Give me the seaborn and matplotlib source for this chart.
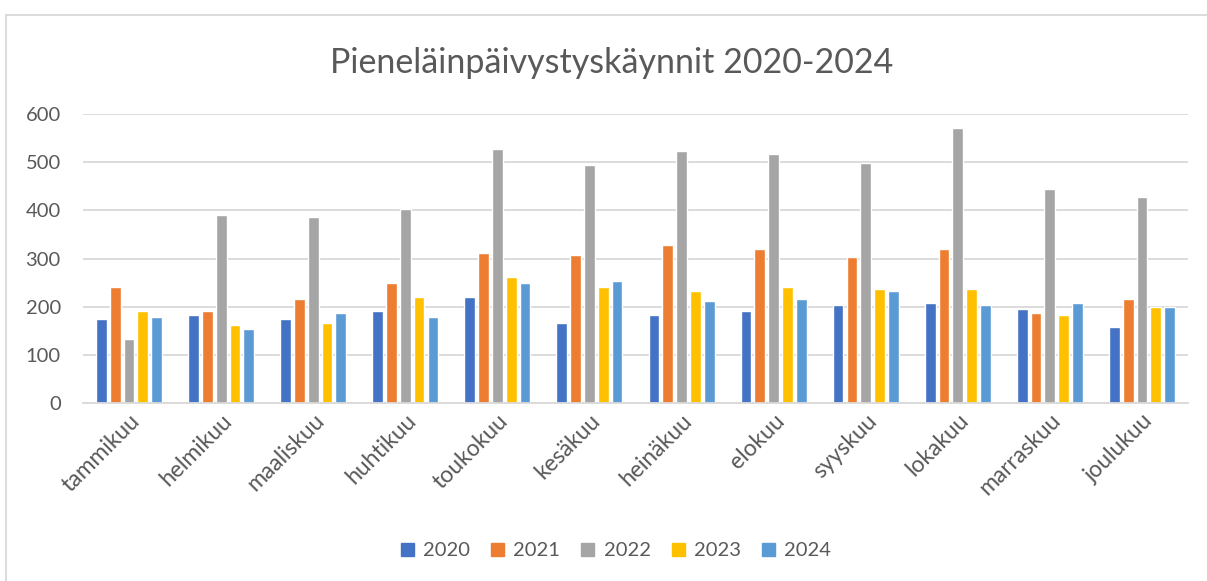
import matplotlib
matplotlib.use('Agg')
import matplotlib.pyplot as plt
import seaborn as sns
import pandas as pd
from matplotlib.patches import Rectangle

months = ['tammikuu', 'helmikuu', 'maaliskuu', 'huhtikuu', 'toukokuu', 'kesäkuu',
          'heinäkuu', 'elokuu', 'syyskuu', 'lokakuu', 'marraskuu', 'joulukuu']
years = ['2020', '2021', '2022', '2023', '2024']
v2020 = [174, 183, 174, 191, 220, 166, 183, 191, 203, 208, 195, 158]
v2021 = [241, 191, 216, 249, 312, 308, 328, 320, 303, 320, 187, 216]
v2022 = [133, 391, 387, 403, 528, 495, 524, 516, 499, 570, 445, 428]
v2023 = [191, 162, 166, 220, 262, 241, 233, 241, 237, 237, 183, 199]
v2024 = [178, 153, 187, 178, 249, 253, 212, 216, 233, 203, 208, 199]
colors = ['#4472C4', '#ED7D31', '#A5A5A5', '#FFC000', '#5B9BD5']
title = 'Pieneläinpäivystyskäynnit 2020-2024'

series = [v2020, v2021, v2022, v2023, v2024]
rows = []
for y, vals in zip(years, series):
    for m, v in zip(months, vals):
        rows.append({'month': m, 'year': y, 'value': v})
df = pd.DataFrame(rows)

sns.set_theme(style='white')
plt.rcParams['font.family'] = ['Lato', 'DejaVu Sans']
text_color = '#595959'

fig = plt.figure(figsize=(12.07, 5.81), dpi=100)
W, H = 1207, 581
ax = fig.add_axes([83 / W, 1 - 403 / H, (1188 - 83) / W, (403 - 114) / H])

sns.barplot(data=df, x='month', y='value', hue='year', hue_order=years,
            order=months, palette=colors, width=0.75, gap=0.22,
            saturation=1, ax=ax, legend=False)

ax.set_ylim(0, 600)
ax.set_xlim(-0.5, len(months) - 0.5)
ax.set_yticks(range(0, 601, 100))
ax.yaxis.grid(True, color='#d9d9d9', lw=1.3)
ax.set_axisbelow(True)
for s in ['top', 'right', 'left']:
    ax.spines[s].set_visible(False)
ax.spines['bottom'].set_color('#d9d9d9')
ax.spines['bottom'].set_linewidth(1.3)
ax.set_xlabel('')
ax.set_ylabel('')
ax.tick_params(axis='both', length=0, colors=text_color)
ax.tick_params(axis='y', pad=16, labelsize=14.5)
ax.tick_params(axis='x', pad=5, labelsize=16.5)
for lab in ax.get_xticklabels():
    lab.set_rotation(45)
    lab.set_ha('right')
    lab.set_rotation_mode('anchor')

fig.text(612 / W, 1 - 63 / H, title, ha='center', va='center',
         fontsize=24.5, color=text_color)

handles = [Rectangle((0, 0), 1, 1, color=c) for c in colors]
fig.legend(handles, years, loc='center', bbox_to_anchor=(616 / W, 1 - 551 / H),
           ncol=5, frameon=False, fontsize=14.5, handlelength=0.65, handleheight=0.65,
           handletextpad=0.45, columnspacing=1.05, labelcolor=text_color)

fig.patches.append(Rectangle((6 / W, -0.1), 1.2, 1 - 15 / H + 0.1,
                             transform=fig.transFigure, fill=False,
                             edgecolor='#d9d9d9', lw=1.3))

fig.savefig('out.png', dpi=100)
